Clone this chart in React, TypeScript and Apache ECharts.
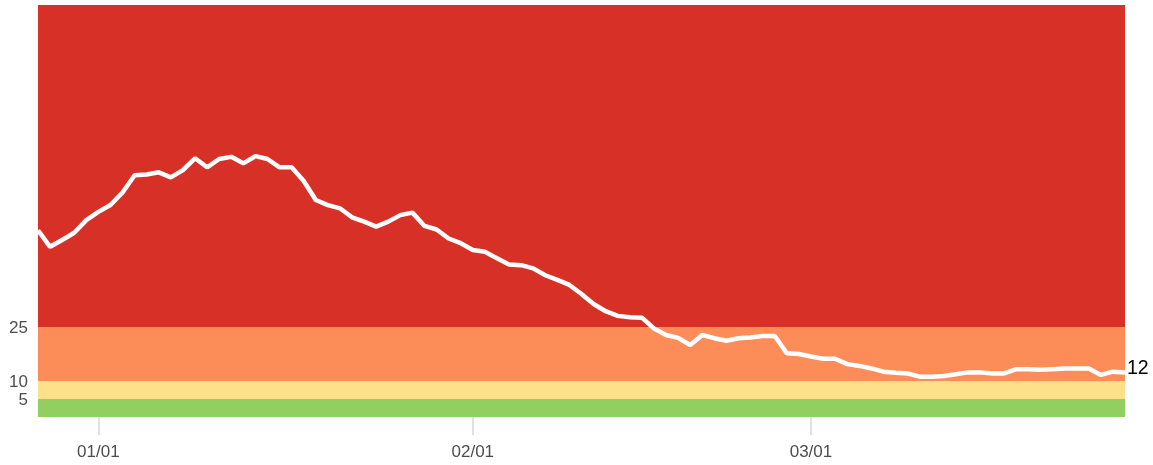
import React, { useEffect, useRef } from "react";
import * as echarts from "echarts";

const dates: string[] = [
  "12/27", "12/28", "12/29", "12/30", "12/31",
  "01/01", "01/02", "01/03", "01/04", "01/05", "01/06", "01/07", "01/08", "01/09", "01/10",
  "01/11", "01/12", "01/13", "01/14", "01/15", "01/16", "01/17", "01/18", "01/19", "01/20",
  "01/21", "01/22", "01/23", "01/24", "01/25", "01/26", "01/27", "01/28", "01/29", "01/30", "01/31",
  "02/01", "02/02", "02/03", "02/04", "02/05", "02/06", "02/07", "02/08", "02/09", "02/10",
  "02/11", "02/12", "02/13", "02/14", "02/15", "02/16", "02/17", "02/18", "02/19", "02/20",
  "02/21", "02/22", "02/23", "02/24", "02/25", "02/26", "02/27", "02/28",
  "03/01", "03/02", "03/03", "03/04", "03/05", "03/06", "03/07", "03/08", "03/09", "03/10",
  "03/11", "03/12", "03/13", "03/14", "03/15", "03/16", "03/17", "03/18", "03/19", "03/20",
  "03/21", "03/22", "03/23", "03/24", "03/25", "03/26", "03/27",
];

const incidence: number[] = [
  51.9, 47.3, 49.2, 51.2, 54.7, 57.0, 58.9, 62.4, 67.2, 67.4,
  68.0, 66.6, 68.6, 71.9, 69.4, 71.7, 72.3, 70.5, 72.5, 71.7,
  69.4, 69.4, 65.6, 60.3, 58.9, 58.0, 55.5, 54.3, 52.9, 54.3,
  56.1, 56.8, 53.1, 52.1, 49.6, 48.3, 46.4, 45.9, 44.1, 42.4,
  42.2, 41.3, 39.4, 38.1, 36.7, 34.2, 31.4, 29.4, 28.1, 27.7,
  27.6, 24.6, 22.8, 22.0, 20.0, 22.8, 21.9, 21.2, 21.9, 22.1,
  22.5, 22.5, 17.7, 17.5, 16.8, 16.2, 16.2, 14.7, 14.2, 13.5,
  12.6, 12.3, 12.1, 11.2, 11.2, 11.4, 11.9, 12.4, 12.4, 12.1,
  12.1, 13.3, 13.3, 13.1, 13.3, 13.5, 13.5, 13.5, 11.7, 12.6,
  12.4,
];

const yTickValues: number[] = [5, 10, 25];
const bandBreaks: number[] = [0, 5, 10, 25, 114.5];
const bandColors: string[] = ["#91CF60", "#FEE08B", "#FC8D59", "#D73027"];

export default function App() {
  const ref = useRef<HTMLDivElement>(null);

  useEffect(() => {
    if (!ref.current) return;
    const chart = echarts.init(ref.current, undefined, { renderer: "svg" });
    const isMonthStart = (_i: number, v: string) => v.endsWith("/01");
    const areas = bandColors.map((c, i) => [
      { yAxis: bandBreaks[i], itemStyle: { color: c, opacity: 1 } },
      { yAxis: bandBreaks[i + 1] },
    ]);
    chart.setOption({
      animation: false,
      textStyle: { fontFamily: "Liberation Sans, Arial, sans-serif" },
      grid: { left: 38, right: 28, top: 5, bottom: 48, containLabel: false },
      xAxis: {
        type: "category",
        data: dates,
        boundaryGap: false,
        axisLine: { show: false },
        axisTick: {
          show: true,
          interval: isMonthStart,
          length: 18,
          lineStyle: { color: "#d6d6d6", width: 1.5 },
        },
        axisLabel: {
          interval: isMonthStart,
          margin: 26,
          color: "#4d4d4d",
          fontSize: 17,
          fontFamily: "Liberation Sans, Arial, sans-serif",
        },
        splitLine: { show: false },
      },
      yAxis: {
        type: "value",
        min: bandBreaks[0],
        max: bandBreaks[bandBreaks.length - 1],
        axisLine: { show: false },
        axisTick: { show: false },
        splitLine: { show: false },
        axisLabel: {
          customValues: yTickValues,
          color: "#4d4d4d",
          fontSize: 17,
          margin: 10,
          fontFamily: "Liberation Sans, Arial, sans-serif",
        },
      },
      series: [
        {
          type: "line",
          data: incidence,
          showSymbol: false,
          symbol: "none",
          lineStyle: { color: "#ffffff", width: 4.5 },
          z: 5,
          endLabel: {
            show: true,
            formatter: (p: any) => String(Math.round(p.value)),
            color: "#000000",
            fontSize: 19.5,
            distance: 2,
            offset: [0, -5],
            fontFamily: "Liberation Sans, Arial, sans-serif",
          },
          markArea: {
            silent: true,
            data: areas,
          },
        },
      ],
    });
    return () => chart.dispose();
  }, []);

  return (
    <div
      ref={ref}
      style={{ position: "fixed", left: 0, top: 0, width: 1153, height: 465 }}
    />
  );
}
